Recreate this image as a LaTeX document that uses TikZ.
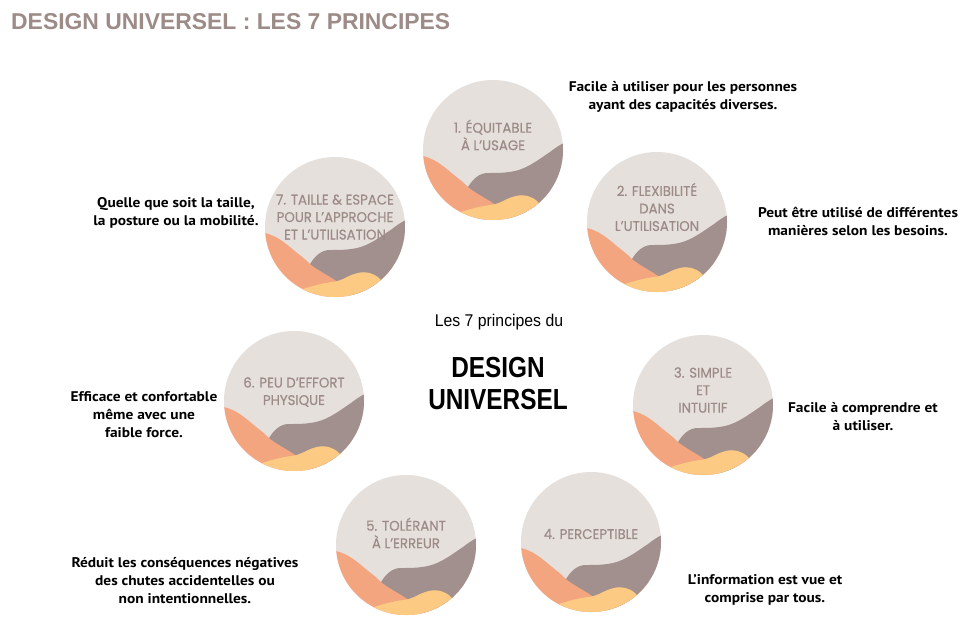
\documentclass[tikz,border=0pt]{standalone}
\usepackage{fontspec}
\setmainfont{Liberation Sans}
\newfontfamily\circfont{Poppins}[FakeStretch=0.95,FakeBold=0.4]
\newfontfamily\descfont{PT Sans}[FakeStretch=1.1]
\newfontfamily\titlefont{Liberation Sans}
\newfontfamily\condfont{Liberation Sans}[FakeStretch=0.84]
\newfontfamily\subfont{Liberation Sans}[FakeStretch=0.93]
\definecolor{bgc}{HTML}{E6E0DC}
\definecolor{orc}{HTML}{F2A57E}
\definecolor{grc}{HTML}{A1908D}
\definecolor{yec}{HTML}{FDCA83}
\definecolor{ctxt}{HTML}{9D8B88}
\definecolor{ttl}{HTML}{9C8B87}
\tikzset{
  ctext/.style={font=\circfont\fontsize{14}{17.5}\selectfont, text=ctxt, align=center, inner sep=0pt},
  desc/.style={font=\descfont\bfseries\fontsize{14}{18}\selectfont, align=center, text=black, inner sep=0pt},
}
\newcommand\udcirc[5]{%
  \begin{scope}[shift={(#2,#3)},yscale=-1]
    \clip (0,0) circle (70);
    \fill[bgc] (-80,-80) rectangle (80,80);
    \fill[orc] (-80,-4) -- (-70,-6) .. controls (-54,-10) and (-46,-20) .. (-34,-29)
      .. controls (-30,-32) and (-27,-35) .. (-25,-37) -- (20,-40) -- (80,-40) -- (80,-80) -- (-80,-80) -- cycle;
    \fill[grc] (-25,-37) .. controls (-20,-29) and (-14,-23) .. (-5,-23)
      .. controls (5,-23) and (12,-23) .. (22,-21)
      .. controls (35,-18) and (45,-10) .. (57,-2)
      .. controls (62,2) and (68,6) .. (80,12) -- (80,-90) -- (30,-90)
      .. controls (15,-65) and (5,-56) .. (-3,-51)
      .. controls (-13,-45) and (-20,-41) .. (-25,-37) -- cycle;
    \fill[yec] (-70,-75) .. controls (-45,-66) and (-20,-57) .. (-3,-55)
      .. controls (8,-54) and (13,-48) .. (23,-46)
      .. controls (31,-44) and (38,-46) .. (44,-51)
      .. controls (50,-57) and (52,-63) .. (55,-80) -- (-70,-80) -- cycle;
  \end{scope}
  \node[ctext] (#1) at (#2,#3-#4) {#5};
}
\begin{document}
\begin{tikzpicture}[x=1pt,y=-1pt]
\fill[white] (0,0) rectangle (972,621);
\useasboundingbox (0,0) rectangle (972,621);

\node[anchor=west, inner sep=0pt, text=ttl, font=\titlefont\bfseries\fontsize{22.9}{26}\selectfont] (title) at (11,22) {DESIGN UNIVERSEL : LES 7 PRINCIPES};

\udcirc{c1}{493}{150}{15}{1. ÉQUITABLE\\À L’USAGE}
\udcirc{c2}{657}{222}{15}{2. FLEXIBILITÉ\\DANS\\L’UTILISATION}
\udcirc{c3}{703}{405}{15}{3. SIMPLE\\ET\\INTUITIF}
\udcirc{c4}{591}{542}{8}{4. PERCEPTIBLE}
\udcirc{c5}{406}{545}{12}{5. TOLÉRANT\\À L’ERREUR}
\udcirc{c6}{294}{401}{9}{6. PEU D’EFFORT\\PHYSIQUE}
\udcirc{c7}{335}{227}{10}{7. TAILLE \& ESPACE\\POUR L’APPROCHE\\ET L’UTILISATION}

\node[desc] (d1) at (683,97) {Facile à utiliser pour les personnes\\ayant des capacités diverses.};
\node[desc] (d2) at (858,221) {Peut être utilisé de différentes\\manières selon les besoins.};
\node[desc] (d3) at (863,417) {Facile à comprendre et\\à utiliser.};
\node[desc] (d4) at (765,590) {L’information est vue et\\comprise par tous.};
\node[desc] (d5) at (185,581) {Réduit les conséquences négatives\\des chutes accidentelles ou\\non intentionnelles.};
\node[desc] (d6) at (144,415) {Efficace et confortable\\même avec une\\faible force.};
\node[desc] (d7) at (176,213) {Quelle que soit la taille,\\la posture ou la mobilité.};

\node[inner sep=0pt, font=\subfont\fontsize{17}{20}\selectfont] (sub) at (499,322) {Les 7 principes du};
\node[inner sep=0pt, align=center, font=\condfont\bfseries\fontsize{29}{32}\selectfont] (main) at (498,384) {DESIGN\\UNIVERSEL};
\end{tikzpicture}
\end{document}
